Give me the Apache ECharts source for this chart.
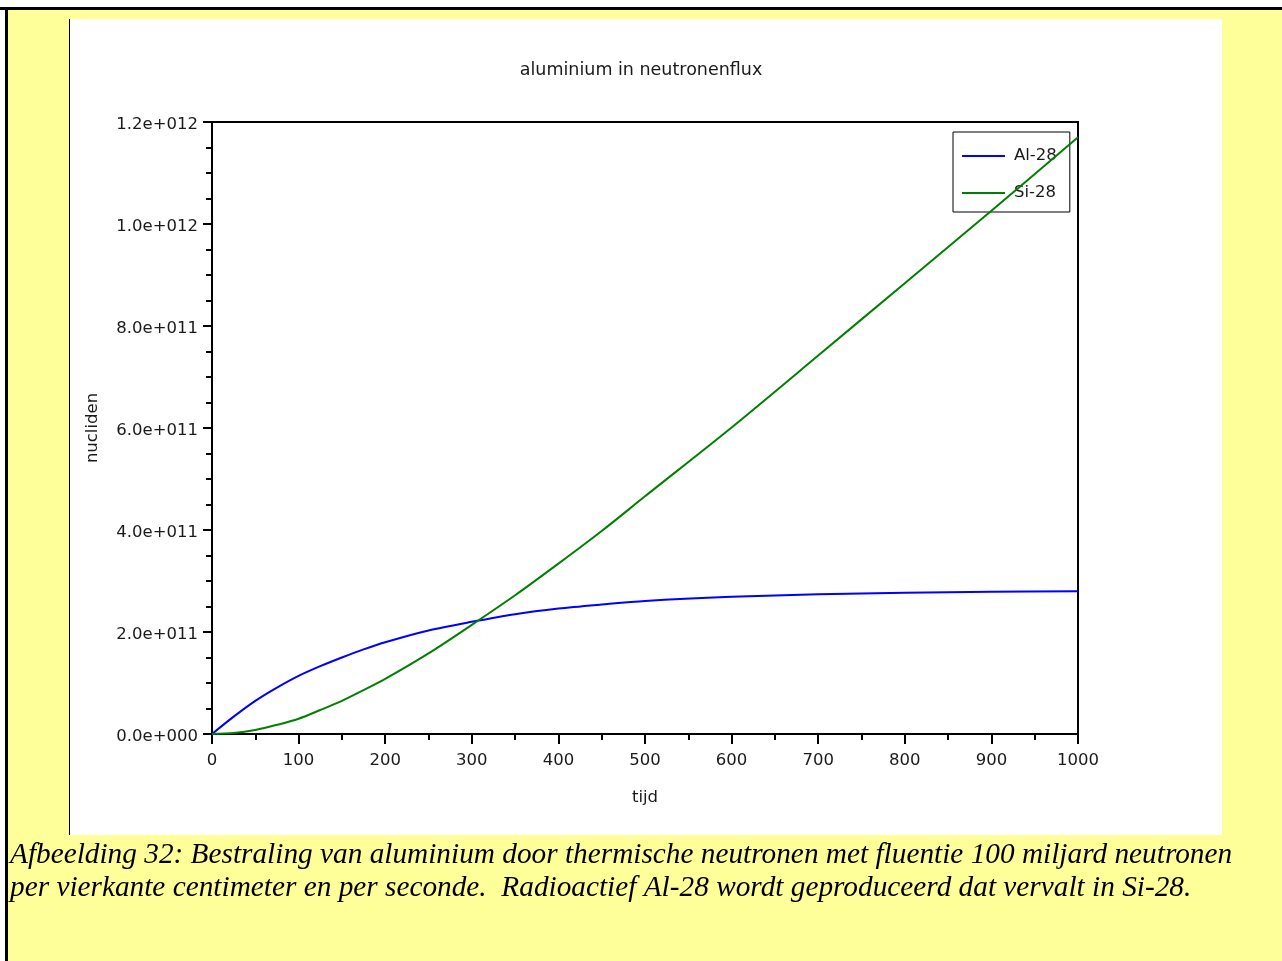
<!DOCTYPE html>
<html>
<head>
<meta charset="utf-8">
<script src="https://cdn.jsdelivr.net/npm/echarts@6/dist/echarts.min.js"></script>
<style>
html,body{margin:0;padding:0;background:#fff;}
#c{width:1282px;height:961px;}
</style>
</head>
<body>
<div id="c"></div>
<script>
// tijd (s)
const tijd = [0, 25, 50, 75, 100, 125, 150, 175, 200, 250, 300, 350, 400, 450, 500, 600, 700, 800, 900, 1000];
// Al-28 nucliden (in units of 1e9)
const al28 = [0, 34, 65, 91, 114, 133, 150, 166, 180, 203, 220, 235, 246, 254, 261, 269, 274, 277, 279, 280];
// Si-28 nucliden (in units of 1e9)
const si28 = [0, 2, 8, 18, 30, 47, 65, 86, 108, 158, 214, 272, 334, 398, 466, 601, 742, 884, 1026, 1170];
const seriesNames = ['Al-28', 'Si-28'];
const titleText = 'aluminium in neutronenflux';
const xName = 'tijd';
const yName = 'nucliden';
const captionLines = [
  'Afbeelding 32: Bestraling van aluminium door thermische neutronen met fluentie 100 miljard neutronen',
  'per vierkante centimeter en per seconde.  Radioactief Al-28 wordt geproduceerd dat vervalt in Si-28.'
];

function fmtY(v) {
  if (v === 0) return '0.0e+000';
  const e = Math.floor(Math.log10(v) + 1e-9);
  const m = v / Math.pow(10, e);
  return m.toFixed(1) + 'e+' + String(e).padStart(3, '0');
}

const chart = echarts.init(document.getElementById('c'), null, {renderer: 'canvas'});
const axisFont = {fontFamily: 'DejaVu Sans', fontSize: 16.5, color: '#1a1a1a'};

chart.setOption({
  backgroundColor: '#ffffff',
  animation: false,
  title: {
    text: titleText,
    left: 'center',
    top: 56,
    textStyle: {fontFamily: 'DejaVu Sans', fontSize: 17.5, fontWeight: 'normal', color: '#1a1a1a'}
  },
  graphic: [
    {type: 'rect', z: -10, shape: {x: 8, y: 10, width: 1274, height: 951}, style: {fill: '#FFFF99'}},
    {type: 'rect', z: -10, shape: {x: 0, y: 7, width: 1282, height: 3}, style: {fill: '#000'}},
    {type: 'rect', z: -10, shape: {x: 5, y: 7, width: 3, height: 954}, style: {fill: '#000'}},
    {type: 'rect', z: -10, shape: {x: 70, y: 19, width: 1152, height: 816}, style: {fill: '#fff'}},
    {type: 'rect', z: -10, shape: {x: 69, y: 19, width: 1, height: 816}, style: {fill: '#000'}},
    {type: 'text', z: -5, x: 10, y: 855, style: {text: captionLines[0], fill: '#000', font: 'italic 29.3px "Liberation Serif"', textVerticalAlign: 'middle'}},
    {type: 'text', z: -5, x: 10, y: 888, style: {text: captionLines[1], fill: '#000', font: 'italic 29.3px "Liberation Serif"', textVerticalAlign: 'middle'}}
  ],
  legend: {
    data: seriesNames,
    orient: 'vertical',
    left: 953,
    top: 132,
    backgroundColor: '#fff',
    borderColor: '#000',
    borderWidth: 1,
    padding: [14, 13, 9, 9],
    itemGap: 17,
    itemWidth: 43,
    itemHeight: 2,
    icon: 'rect',
    textStyle: {fontFamily: 'DejaVu Sans', fontSize: 16.5, color: '#1a1a1a', lineHeight: 20, padding: [0, 0, 0, 4]}
  },
  grid: {
    left: 212, top: 122, width: 866, height: 612,
    show: true, borderColor: '#000', borderWidth: 2, backgroundColor: 'transparent'
  },
  xAxis: {
    type: 'value', min: 0, max: 1000, interval: 100,
    name: xName, nameLocation: 'middle', nameGap: 55,
    nameTextStyle: axisFont,
    axisLine: {show: true, lineStyle: {color: '#000', width: 2}},
    axisTick: {show: true, inside: false, length: 10, lineStyle: {color: '#000', width: 2}},
    minorTick: {show: true, splitNumber: 2, length: 6, lineStyle: {color: '#000', width: 2}},
    splitLine: {show: false},
    axisLabel: Object.assign({margin: 18, formatter: v => String(v)}, axisFont),
    z: 5
  },
  yAxis: {
    type: 'value', min: 0, max: 1.2e12, interval: 2e11,
    name: yName, nameLocation: 'middle', nameGap: 111,
    nameTextStyle: axisFont,
    axisLine: {show: true, lineStyle: {color: '#000', width: 2}},
    axisTick: {show: true, inside: false, length: 9, lineStyle: {color: '#000', width: 2}},
    minorTick: {show: true, splitNumber: 4, length: 6, lineStyle: {color: '#000', width: 2}},
    splitLine: {show: false},
    axisLabel: Object.assign({margin: 14, formatter: fmtY, verticalAlign: 'top', lineHeight: 6}, axisFont),
    z: 5
  },
  series: [
    {
      name: seriesNames[0], type: 'line', showSymbol: false, symbol: 'none', smooth: 0.3,
      color: '#0000FF', lineStyle: {color: '#0000FF', width: 2},
      data: tijd.map((t, i) => [t, al28[i] * 1e9]), z: 10
    },
    {
      name: seriesNames[1], type: 'line', showSymbol: false, symbol: 'none', smooth: 0.3,
      color: '#008000', lineStyle: {color: '#008000', width: 2},
      data: tijd.map((t, i) => [t, si28[i] * 1e9]), z: 10
    }
  ]
});
</script>
</body>
</html>
